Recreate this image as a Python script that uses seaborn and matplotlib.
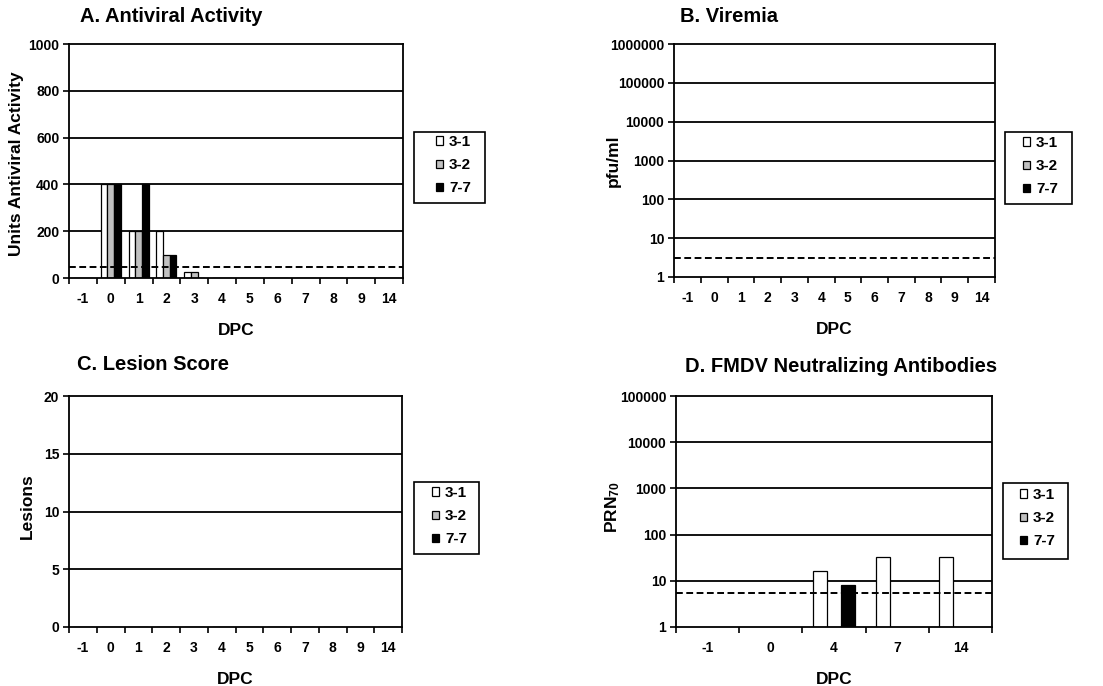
import matplotlib
matplotlib.use("Agg")
import matplotlib.pyplot as plt
import matplotlib.ticker as mticker
from matplotlib.patches import Patch, Rectangle
import numpy as np
import pandas as pd
import seaborn as sns

sns.set_style("white")
plt.rcParams['font.family'] = ['Liberation Sans', 'DejaVu Sans']
plt.rcParams['font.weight'] = 'bold'
plt.rcParams['axes.labelweight'] = 'bold'
plt.rcParams['text.color'] = 'black'
plt.rcParams['axes.labelcolor'] = 'black'
plt.rcParams['xtick.color'] = 'black'
plt.rcParams['ytick.color'] = 'black'
plt.rcParams['mathtext.fontset'] = 'custom'
plt.rcParams['mathtext.rm'] = 'Liberation Sans:bold'
plt.rcParams['mathtext.default'] = 'rm'

W, H = 1103, 686

groups = ['3-1', '3-2', '7-7']
colors = ['#ffffff', '#c0c0c0', '#000000']

# panel A: antiviral activity
dpc_a = ['-1', '0', '1', '2', '3', '4', '5', '6', '7', '8', '9', '14']
av_31 = [0, 400, 200, 200, 25, 0, 0, 0, 0, 0, 0, 0]
av_32 = [0, 400, 200, 100, 25, 0, 0, 0, 0, 0, 0, 0]
av_77 = [0, 400, 400, 100, 0, 0, 0, 0, 0, 0, 0, 0]
av_limit = 45

# panel B: viremia (nothing detected)
dpc_b = dpc_a
vir_31 = [0] * 12
vir_32 = [0] * 12
vir_77 = [0] * 12
vir_limit = 3

# panel C: lesion score (none)
dpc_c = dpc_a
les_31 = [0] * 12
les_32 = [0] * 12
les_77 = [0] * 12

# panel D: neutralizing antibodies
dpc_d = ['-1', '0', '4', '7', '14']
ab_31 = [0, 0, 16, 32, 32]
ab_32 = [0, 0, 0, 0, 0]
ab_77 = [0, 0, 8, 0, 0]
ab_limit = 5.5


def long_frame(dpc, a, b, c):
    rows = []
    for name, vals in zip(groups, [a, b, c]):
        for d, v in zip(dpc, vals):
            rows.append({'DPC': d, 'group': name, 'value': v})
    return pd.DataFrame(rows)


def px_axes(x0, y0, x1, y1):
    # pixel box (top-left origin) -> figure axes
    return fig.add_axes([x0 / W, 1 - y1 / H, (x1 - x0) / W, (y1 - y0) / H])


def panel(ax, dpc, a, b, c, ylabel, width, ylab_xy, log=False, ylim=None, yticks=None, limit=None):
    df = long_frame(dpc, a, b, c)
    if log:
        ax.set_yscale('log')
    sns.barplot(data=df, x='DPC', y='value', hue='group', order=dpc, hue_order=groups,
                palette=colors, edgecolor='black', linewidth=0.9, width=width,
                errorbar=None, legend=False, ax=ax)
    ax.set_ylim(*ylim)
    ax.set_xlim(-0.5, len(dpc) - 0.5)
    ax.yaxis.set_major_locator(mticker.FixedLocator(yticks))
    ax.yaxis.set_minor_locator(mticker.NullLocator())
    ax.yaxis.set_major_formatter(mticker.FuncFormatter(lambda v, p: '%d' % v))
    for t in yticks[1:-1]:
        ax.axhline(t, color='black', lw=1.3, zorder=0.5)
    if limit is not None:
        ax.axhline(limit, color='black', lw=1.4, ls=(0, (3.5, 1.8)), zorder=3)
    ax.set_xticks(range(len(dpc)))
    ax.set_xticklabels(dpc)
    ax.xaxis.set_minor_locator(mticker.FixedLocator(np.arange(-0.5, len(dpc), 1.0)))
    ax.tick_params(axis='x', which='major', length=0, pad=10, labelsize=10)
    ax.tick_params(axis='x', which='minor', length=4, width=1.2, direction='out', bottom=True)
    ax.tick_params(axis='y', which='major', length=4, width=1.2, direction='out', left=True, labelsize=10, pad=3)
    for s in ax.spines.values():
        s.set_color('black')
        s.set_linewidth(1.3)
        s.set_visible(True)
    ax.set_xlabel('DPC', fontsize=12.5, labelpad=12)
    ax.set_ylabel(ylabel, fontsize=12.5)
    ax.yaxis.set_label_coords(*ylab_xy)
    for lab in ax.get_xticklabels() + ax.get_yticklabels():
        lab.set_fontweight('bold')


def add_legend(box, mark_x, first_y):
    x0, y0, x1, y1 = box
    fig.patches.append(Rectangle((x0 / W, 1 - y1 / H), (x1 - x0) / W, (y1 - y0) / H,
                                 transform=fig.transFigure, facecolor='white',
                                 edgecolor='black', linewidth=1.2, zorder=4))
    handles = [Patch(facecolor=c, edgecolor='black', linewidth=0.9) for c in colors]
    leg = fig.legend(handles, groups, loc='upper left',
                     bbox_to_anchor=(mark_x / W, 1 - (first_y - 8) / H),
                     frameon=False, fontsize=11,
                     handlelength=0.45, handleheight=0.45, handletextpad=0.4,
                     labelspacing=0.6, borderpad=0, borderaxespad=0)
    leg.set_zorder(5)
    for t in leg.get_texts():
        t.set_fontweight('bold')


fig = plt.figure(figsize=(W / 100, H / 100), dpi=100)

ax_a = px_axes(69, 44, 403, 278)
panel(ax_a, dpc_a, av_31, av_32, av_77, 'Units Antiviral Activity', 0.72, (-0.135, 0.49),
      ylim=(0, 1000), yticks=[0, 200, 400, 600, 800, 1000], limit=av_limit)

ax_b = px_axes(674, 44, 995, 277)
panel(ax_b, dpc_b, vir_31, vir_32, vir_77, 'pfu/ml', 0.72, (-0.165, 0.5), log=True,
      ylim=(1, 1e6), yticks=[1, 10, 100, 1000, 10000, 100000, 1000000], limit=vir_limit)

ax_c = px_axes(69, 396, 402, 627)
panel(ax_c, dpc_c, les_31, les_32, les_77, 'Lesions', 0.72, (-0.103, 0.524),
      ylim=(0, 20), yticks=[0, 5, 10, 15, 20])

ax_d = px_axes(676, 396, 992, 627)
panel(ax_d, dpc_d, ab_31, ab_32, ab_77, 'PRN$_{70}$', 0.68, (-0.172, 0.52), log=True,
      ylim=(1, 1e5), yticks=[1, 10, 100, 1000, 10000, 100000], limit=ab_limit)

add_legend((414, 132, 485, 203), 436, 143)
add_legend((1005, 132, 1072, 204), 1023, 144)
add_legend((414, 482, 479, 554), 432, 494)
add_legend((1003, 483, 1068, 559), 1020, 496)

fig.text(80 / W, 1 - 17 / H, 'A. Antiviral Activity', fontsize=14.5, fontweight='bold', va='center')
fig.text(680 / W, 1 - 17 / H, 'B. Viremia', fontsize=14.5, fontweight='bold', va='center')
fig.text(77 / W, 1 - 365 / H, 'C. Lesion Score', fontsize=14.5, fontweight='bold', va='center')
fig.text(685 / W, 1 - 367 / H, 'D. FMDV Neutralizing Antibodies', fontsize=14.5, fontweight='bold', va='center')

fig.savefig('out.png', dpi=100, facecolor='white')
